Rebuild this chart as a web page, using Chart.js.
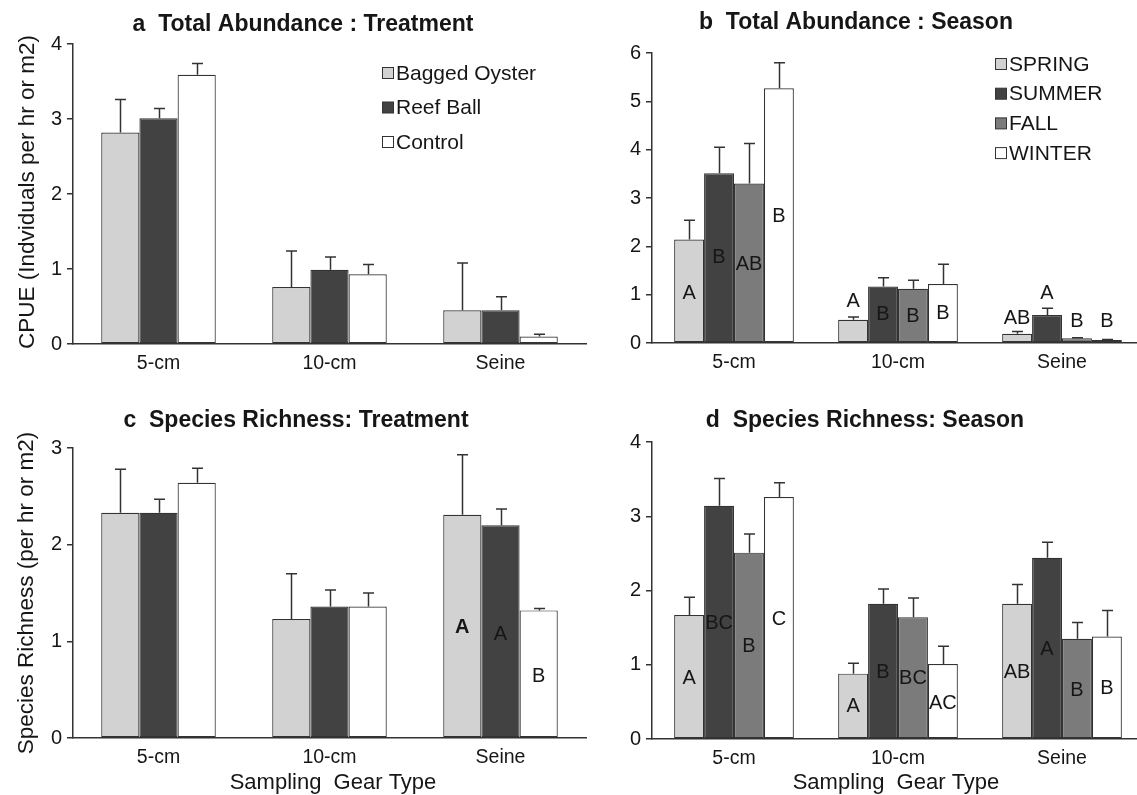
<!DOCTYPE html>
<html><head><meta charset="utf-8">
<script src="https://cdn.jsdelivr.net/npm/chart.js@4.4.1/dist/chart.umd.min.js"></script>
<style>
html,body{margin:0;padding:0;background:#fff;width:1137px;height:795px;overflow:hidden;position:relative}
canvas{position:absolute}
</style></head>
<body>
<canvas id="pa" width="590" height="390" style="left:0;top:0"></canvas>
<canvas id="pb" width="554" height="390" style="left:590px;top:0"></canvas>
<canvas id="pc" width="590" height="405" style="left:0;top:390px"></canvas>
<canvas id="pd" width="554" height="405" style="left:590px;top:390px"></canvas>
<script>
// ---------- DATA ----------
const gearTypes = ['5-cm', '10-cm', 'Seine'];
const treatmentNames = ['Bagged Oyster', 'Reef Ball', 'Control'];
const seasonNames = ['SPRING', 'SUMMER', 'FALL', 'WINTER'];

// a: Total abundance by treatment (mean, SE)
const abundBagged = [2.82, 0.76, 0.45];
const abundBaggedSE = [0.44, 0.48, 0.63];
const abundReef = [3.01, 0.99, 0.45];
const abundReefSE = [0.13, 0.17, 0.18];
const abundControl = [3.59, 0.93, 0.10];
const abundControlSE = [0.15, 0.13, 0.03];

// b: Total abundance by season
const abundSpring = [2.14, 0.48, 0.19];
const abundSpringSE = [0.40, 0.06, 0.05];
const abundSummer = [3.51, 1.17, 0.58];
const abundSummerSE = [0.54, 0.18, 0.14];
const abundFall = [3.30, 1.12, 0.10];
const abundFallSE = [0.83, 0.18, 0.01];
const abundWinter = [5.27, 1.22, 0.06];
const abundWinterSE = [0.53, 0.41, 0.01];
const abundSpringLetters = ['A', 'A', 'AB'];
const abundSpringLetterY = [1.03, 0.86, 0.51];
const abundSummerLetters = ['B', 'B', 'A'];
const abundSummerLetterY = [1.76, 0.58, 1.03];
const abundFallLetters = ['AB', 'B', 'B'];
const abundFallLetterY = [1.62, 0.55, 0.44];
const abundWinterLetters = ['B', 'B', 'B'];
const abundWinterLetterY = [2.62, 0.61, 0.44];

// c: Species richness by treatment
const richBagged = [2.33, 1.23, 2.31];
const richBaggedSE = [0.45, 0.47, 0.62];
const richReef = [2.33, 1.36, 2.20];
const richReefSE = [0.14, 0.17, 0.17];
const richControl = [2.64, 1.36, 1.32];
const richControlSE = [0.15, 0.14, 0.02];
const richBaggedLetters = ['', '', 'A'];
const richBaggedLetterY = [0, 0, 1.14];
const richReefLetters = ['', '', 'A'];
const richReefLetterY = [0, 0, 1.07];
const richControlLetters = ['', '', 'B'];
const richControlLetterY = [0, 0, 0.64];

// d: Species richness by season
const richSpring = [1.67, 0.88, 1.82];
const richSpringSE = [0.24, 0.14, 0.26];
const richSummer = [3.14, 1.82, 2.44];
const richSummerSE = [0.37, 0.20, 0.21];
const richFall = [2.51, 1.64, 1.35];
const richFallSE = [0.25, 0.26, 0.22];
const richWinter = [3.26, 1.01, 1.38];
const richWinterSE = [0.19, 0.24, 0.35];
const richSpringLetters = ['A', 'A', 'AB'];
const richSpringLetterY = [0.82, 0.44, 0.89];
const richSummerLetters = ['BC', 'B', 'A'];
const richSummerLetterY = [1.56, 0.90, 1.21];
const richFallLetters = ['B', 'BC', 'B'];
const richFallLetterY = [1.25, 0.82, 0.66];
const richWinterLetters = ['C', 'AC', 'B'];
const richWinterLetterY = [1.61, 0.48, 0.68];

const yTicksA = [0, 1, 2, 3, 4];
const yTicksB = [0, 1, 2, 3, 4, 5, 6];
const yTicksC = [0, 1, 2, 3];
const yTicksD = [0, 1, 2, 3, 4];

// ---------- STYLE ----------
const FONT = '"Liberation Sans", Arial, Helvetica, sans-serif';
const TXT = '#161616';
const LINE = '#333333';
const COL_LIGHT = '#d2d2d2';
const COL_DARK = '#424242';
const COL_MID = '#7b7b7b';
const COL_WHITE = '#ffffff';

Chart.defaults.font.family = FONT;
Chart.defaults.color = TXT;

const CFG = {};

const decor = {
  id: 'decor',
  afterDatasetsDraw(chart) {
    const c = CFG[chart.canvas.id];
    const ctx = chart.ctx;
    const ys = chart.scales.y;
    ctx.save();
    // error bars
    chart.data.datasets.forEach((ds, i) => {
      const meta = chart.getDatasetMeta(i);
      meta.data.forEach((el, j) => {
        const top = ys.getPixelForValue(ds.data[j] + c.se[i][j]);
        const x = Math.round(el.x) + 0.5;
        ctx.strokeStyle = LINE;
        ctx.lineWidth = 1.5;
        ctx.beginPath();
        ctx.moveTo(x, el.y);
        ctx.lineTo(x, top);
        ctx.moveTo(x - 5.5, top);
        ctx.lineTo(x + 5.5, top);
        ctx.stroke();
      });
    });
    // significance letters
    if (c.letters) {
      ctx.textAlign = 'center';
      ctx.textBaseline = 'middle';
      ctx.fillStyle = TXT;
      chart.data.datasets.forEach((ds, i) => {
        const meta = chart.getDatasetMeta(i);
        meta.data.forEach((el, j) => {
          const t = c.letters[i][j];
          if (!t) return;
          const bold = c.bold && c.bold[i] && c.bold[i][j];
          ctx.font = (bold ? 'bold ' : '') + '20px ' + FONT;
          ctx.fillText(t, el.x, ys.getPixelForValue(c.letterY[i][j]));
        });
      });
    }
    ctx.restore();
  },
  afterDraw(chart) {
    const c = CFG[chart.canvas.id];
    const ctx = chart.ctx;
    ctx.save();
    ctx.fillStyle = TXT;
    ctx.textBaseline = 'middle';
    // panel title
    ctx.textAlign = 'center';
    ctx.font = 'bold 23px ' + FONT;
    ctx.fillText(c.title[0], c.title[1], c.title[2]);
    // y axis title
    if (c.yTitle) {
      ctx.save();
      ctx.translate(c.yTitle[1], c.yTitle[2]);
      ctx.rotate(-Math.PI / 2);
      ctx.font = '22.5px ' + FONT;
      ctx.fillText(c.yTitle[0], 0, 0);
      ctx.restore();
    }
    if (c.xTitle) {
      ctx.font = '22px ' + FONT;
      ctx.fillText(c.xTitle[0], c.xTitle[1], c.xTitle[2]);
    }
    // legend
    if (c.legend) {
      const L = c.legend;
      ctx.font = '21px ' + FONT;
      ctx.textAlign = 'left';
      chart.data.datasets.forEach((ds, i) => {
        const y = L.y + i * L.dy;
        ctx.fillStyle = ds.backgroundColor;
        ctx.fillRect(L.x + 0.5, y - 5.5, 11, 11);
        ctx.strokeStyle = LINE;
        ctx.lineWidth = 1;
        ctx.strokeRect(L.x + 0.5, y - 5.5, 11, 11);
        ctx.fillStyle = TXT;
        ctx.fillText(ds.label, L.x + 14, y + 1);
      });
    }
    ctx.restore();
  }
};

function makeChart(id, area, yMax, yTicks, catPct, datasets, extra) {
  const cv = document.getElementById(id);
  const W = cv.width, H = cv.height;
  CFG[id] = extra;
  return new Chart(cv, {
    type: 'bar',
    data: {
      labels: gearTypes,
      datasets: datasets.map(d => ({
        label: d.label, data: d.data, backgroundColor: d.color,
        borderColor: LINE, borderWidth: 1.2, borderSkipped: false,
        barPercentage: 1.0, categoryPercentage: catPct
      }))
    },
    options: {
      responsive: false, animation: false, devicePixelRatio: 1,
      layout: { autoPadding: false, padding: { left: 0, top: area.top, right: W - area.right, bottom: 0 } },
      plugins: { legend: { display: false }, tooltip: { enabled: false } },
      scales: {
        x: {
          offset: true,
          grid: { display: false, drawTicks: false },
          border: { display: true, color: LINE, width: 1.5 },
          ticks: { font: { size: 19.5 }, color: TXT, padding: 8 },
          afterFit: s => { s.height = H - area.bottom; }
        },
        y: {
          min: 0, max: yMax,
          afterBuildTicks: s => { s.ticks = yTicks.map(v => ({ value: v })); },
          grid: { drawOnChartArea: false, drawTicks: true, tickLength: 6, color: LINE, lineWidth: 1.5 },
          border: { display: true, color: LINE, width: 1.5 },
          ticks: { font: { size: 20 }, color: TXT, padding: 5 },
          afterFit: s => { s.width = area.left; }
        }
      }
    },
    plugins: [decor]
  });
}

// Panel a
makeChart('pa', { left: 73, right: 586, top: 44, bottom: 344 }, 4, yTicksA, 0.67, [
  { label: treatmentNames[0], data: abundBagged, color: COL_LIGHT },
  { label: treatmentNames[1], data: abundReef, color: COL_DARK },
  { label: treatmentNames[2], data: abundControl, color: COL_WHITE }
], {
  se: [abundBaggedSE, abundReefSE, abundControlSE],
  title: ['a  Total Abundance : Treatment', 303, 25],
  yTitle: ['CPUE (Indviduals per hr or m2)', 28, 192],
  legend: { x: 382, y: 73, dy: 34.5 }
});

// Panel b
makeChart('pb', { left: 62, right: 554, top: 53, bottom: 343 }, 6, yTicksB, 0.73, [
  { label: seasonNames[0], data: abundSpring, color: COL_LIGHT },
  { label: seasonNames[1], data: abundSummer, color: COL_DARK },
  { label: seasonNames[2], data: abundFall, color: COL_MID },
  { label: seasonNames[3], data: abundWinter, color: COL_WHITE }
], {
  se: [abundSpringSE, abundSummerSE, abundFallSE, abundWinterSE],
  letters: [abundSpringLetters, abundSummerLetters, abundFallLetters, abundWinterLetters],
  letterY: [abundSpringLetterY, abundSummerLetterY, abundFallLetterY, abundWinterLetterY],
  title: ['b  Total Abundance : Season', 856 - 590, 23],
  legend: { x: 995 - 590, y: 64, dy: 29.7 }
});

// Panel c
makeChart('pc', { left: 73, right: 586, top: 58, bottom: 348 }, 3, yTicksC, 0.67, [
  { label: treatmentNames[0], data: richBagged, color: COL_LIGHT },
  { label: treatmentNames[1], data: richReef, color: COL_DARK },
  { label: treatmentNames[2], data: richControl, color: COL_WHITE }
], {
  se: [richBaggedSE, richReefSE, richControlSE],
  letters: [richBaggedLetters, richReefLetters, richControlLetters],
  letterY: [richBaggedLetterY, richReefLetterY, richControlLetterY],
  bold: [[false, false, true], [false, false, false], [false, false, false]],
  title: ['c  Species Richness: Treatment', 296, 31],
  yTitle: ['Species Richness (per hr or m2)', 27, 203],
  xTitle: ['Sampling  Gear Type', 333, 393]
});

// Panel d
makeChart('pd', { left: 62, right: 554, top: 52, bottom: 349 }, 4, yTicksD, 0.73, [
  { label: seasonNames[0], data: richSpring, color: COL_LIGHT },
  { label: seasonNames[1], data: richSummer, color: COL_DARK },
  { label: seasonNames[2], data: richFall, color: COL_MID },
  { label: seasonNames[3], data: richWinter, color: COL_WHITE }
], {
  se: [richSpringSE, richSummerSE, richFallSE, richWinterSE],
  letters: [richSpringLetters, richSummerLetters, richFallLetters, richWinterLetters],
  letterY: [richSpringLetterY, richSummerLetterY, richFallLetterY, richWinterLetterY],
  title: ['d  Species Richness: Season', 865 - 590, 31],
  xTitle: ['Sampling  Gear Type', 896 - 590, 393]
});
</script>
</body></html>
